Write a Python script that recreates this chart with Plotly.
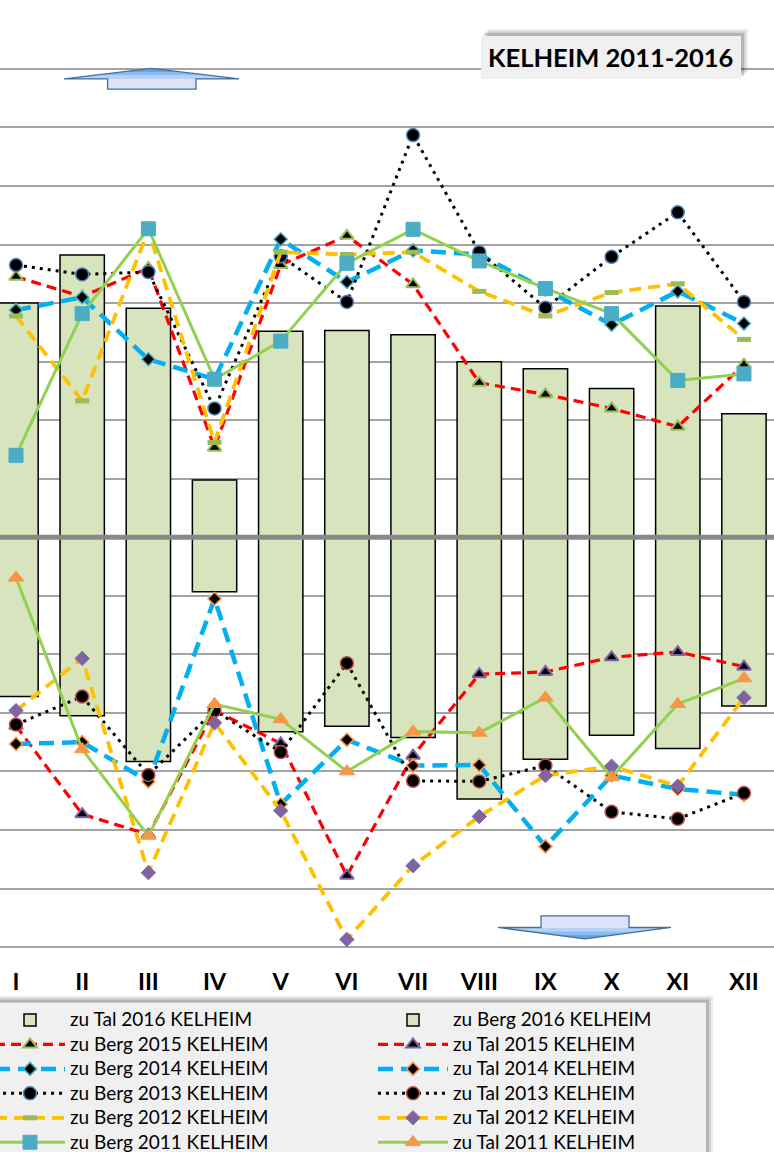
import plotly.graph_objects as go

# ---------------- data ----------------
months = ["I", "II", "III", "IV", "V", "VI", "VII", "VIII", "IX", "X", "XI", "XII"]

tal_2016 = [-272, -305, -383, -93, -332, -323, -342, -447, -379, -338, -361, -288]
berg_2016 = [400, 482, 391, 98, 352, 353, 346, 300, 288, 254, 395, 211]

berg_2015 = [445, 411, 460, 153, 465, 515, 432, 264, 244, 220, 189, 295]
tal_2015 = [-322, -473, -508, -296, -352, -578, -373, -234, -230, -205, -196, -221]
berg_2014 = [388, 410, 304, 270, 509, 436, 490, 483, 423, 363, 420, 365]
tal_2014 = [-353, -350, -417, -105, -456, -346, -390, -389, -528, -407, -430, -440]
berg_2013 = [465, 449, 453, 220, 480, 402, 687, 487, 392, 479, 555, 402]
tal_2013 = [-320, -272, -406, -296, -367, -215, -416, -417, -390, -469, -481, -437]
berg_2012 = [378, 233, 525, 162, 487, 483, 487, 420, 378, 418, 433, 338]
tal_2012 = [-296, -207, -573, -317, -467, -687, -561, -477, -407, -391, -425, -274]
berg_2011 = [140, 382, 527, 270, 335, 468, 526, 472, 425, 382, 268, 279]
tal_2011 = [-69, -362, -510, -285, -311, -400, -332, -334, -274, -410, -285, -241]

title_text = "KELHEIM 2011-2016"

# ---------------- geometry helpers (layout only) ----------------
W, H = 774, 1152
Y_LO, Y_HI = -705, 805          # axis range (gridlines -700..800 stay inside)
SCALE = 0.5855                  # px per data unit
M_T = 69 - (Y_HI - 800) * SCALE
PLOT_BOTTOM = 947.3 + (-700 - Y_LO) * SCALE
M_B = H - PLOT_BOTTOM
PLOT_H = PLOT_BOTTOM - M_T


def px_x(p):
    return p / W


def px_y(p):
    return (PLOT_BOTTOM - p) / PLOT_H


xs = list(range(len(months)))
LEG_FS = 16.5
NAME_FS = 19


def nm(s):
    return '<span style="font-size:%dpx">%s</span>' % (NAME_FS, s)


fig = go.Figure()

bar_style = dict(color="#d7e4bd", line=dict(color="black", width=1.5))
fig.add_trace(go.Bar(x=xs, y=tal_2016, name=nm("zu Tal 2016 KELHEIM"), marker=bar_style, width=0.67))
fig.add_trace(go.Bar(x=xs, y=berg_2016, name=nm("zu Berg 2016 KELHEIM"), marker=bar_style, width=0.67))


def add_line(y, name, lcolor, lwidth, dash, symbol, msize, mcolor, mline, mlw=1.5):
    fig.add_trace(go.Scatter(
        x=xs, y=y, name=nm(name), mode="lines+markers",
        line=dict(color=lcolor, width=lwidth, dash=dash),
        marker=dict(symbol=symbol, size=msize, color=mcolor,
                    line=dict(color=mline, width=mlw)),
    ))


RED, BLUE, YEL, GRN = "#ff0000", "#00b0f0", "#ffc000", "#92d050"
add_line(berg_2015, "zu Berg 2015 KELHEIM", RED, 3.2, "10px,6px", "triangle-up", 12, "black", "#9bbb59", 2)
add_line(tal_2015, "zu Tal 2015 KELHEIM", RED, 3.2, "10px,6px", "triangle-up", 12, "black", "#8064a2", 2)
add_line(berg_2014, "zu Berg 2014 KELHEIM", BLUE, 4.5, "15px,8px", "diamond", 10, "black", "#4bacc6")
add_line(tal_2014, "zu Tal 2014 KELHEIM", BLUE, 4.5, "15px,8px", "diamond", 10, "black", "#f79646")
add_line(berg_2013, "zu Berg 2013 KELHEIM", "black", 3, "3px,5px", "circle", 13, "black", "#4f81bd")
add_line(tal_2013, "zu Tal 2013 KELHEIM", "black", 3, "3px,5px", "circle", 13, "black", "#c0504d")
add_line(berg_2012, "zu Berg 2012 KELHEIM", YEL, 3.8, "12px,7px", "line-ew", 10, "#9bbb59", "#9bbb59", 5)
add_line(tal_2012, "zu Tal 2012 KELHEIM", YEL, 3.8, "12px,7px", "diamond", 11, "#8064a2", "#8064a2", 1)
add_line(berg_2011, "zu Berg 2011 KELHEIM", GRN, 3, "solid", "square", 14, "#4bacc6", "#4bacc6", 1)
add_line(tal_2011, "zu Tal 2011 KELHEIM", GRN, 3, "solid", "triangle-up", 13.5, "#f79646", "#f79646", 1)

shapes = []
# zero line above bars
shapes.append(dict(type="line", xref="paper", yref="y", x0=0, x1=1, y0=0, y1=0,
                   line=dict(color="#888888", width=5), layer="above"))

# title box with shadow
tb = (481, 741, 36, 79)
for off, col in [(7, "rgba(0,0,0,0.07)"), (5, "rgba(0,0,0,0.10)"), (3, "rgba(0,0,0,0.15)")]:
    shapes.append(dict(type="rect", xref="paper", yref="paper",
                       x0=px_x(tb[0] + off), x1=px_x(tb[1] + off),
                       y0=px_y(tb[2] - off), y1=px_y(tb[3] - off),
                       fillcolor=col, line=dict(width=0), layer="above"))
shapes.append(dict(type="rect", xref="paper", yref="paper",
                   x0=px_x(tb[0]), x1=px_x(tb[1]), y0=px_y(tb[2]), y1=px_y(tb[3]),
                   fillcolor="#f0f0f0", line=dict(width=0), layer="above"))

# legend box with shadow
lb = (-20, 706, 1003, 1200)
for off, col in [(7, "rgba(0,0,0,0.07)"), (5, "rgba(0,0,0,0.10)"), (3, "rgba(0,0,0,0.15)")]:
    shapes.append(dict(type="rect", xref="paper", yref="paper",
                       x0=px_x(lb[0] + off), x1=px_x(lb[1] + off),
                       y0=px_y(lb[2] - off), y1=px_y(lb[3]),
                       fillcolor=col, line=dict(width=0), layer="above"))
shapes.append(dict(type="rect", xref="paper", yref="paper",
                   x0=px_x(lb[0]), x1=px_x(lb[1]), y0=px_y(lb[2]), y1=px_y(lb[3]),
                   fillcolor="#f0f0f0", line=dict(width=0), layer="above"))


# block arrows (decoration)
def arrow_shapes(tip_x, tip_y, head_l, head_r, base_y, shaft_l, shaft_r, tail_y):
    out = []
    out.append(dict(type="rect", xref="paper", yref="paper",
                    x0=px_x(shaft_l), x1=px_x(shaft_r), y0=px_y(base_y), y1=px_y(tail_y),
                    fillcolor="#dfe3f8", line=dict(width=0), layer="above"))
    cols = ["#b7d0f5", "#8fbaf2", "#66a3ef"]
    n = len(cols)
    for i, c in enumerate(cols):
        f0, f1 = i / n, (i + 1) / n
        y0 = base_y + (tip_y - base_y) * f0
        y1 = base_y + (tip_y - base_y) * f1
        l0 = head_l + (tip_x - head_l) * f0
        r0 = head_r + (tip_x - head_r) * f0
        l1 = head_l + (tip_x - head_l) * f1
        r1 = head_r + (tip_x - head_r) * f1
        path = "M %f %f L %f %f L %f %f L %f %f Z" % (
            px_x(l0), px_y(y0), px_x(r0), px_y(y0), px_x(r1), px_y(y1), px_x(l1), px_y(y1))
        out.append(dict(type="path", xref="paper", yref="paper", path=path,
                        fillcolor=c, line=dict(width=0), layer="above"))
    pts = [(tip_x, tip_y), (head_r, base_y), (shaft_r, base_y), (shaft_r, tail_y),
           (shaft_l, tail_y), (shaft_l, base_y), (head_l, base_y)]
    path = "M " + " L ".join("%f %f" % (px_x(a), px_y(b)) for a, b in pts) + " Z"
    out.append(dict(type="path", xref="paper", yref="paper", path=path,
                    fillcolor="rgba(0,0,0,0)", line=dict(color="#41719c", width=1.3), layer="above"))
    return out


shapes += arrow_shapes(151.5, 68.5, 64, 239, 79, 107.6, 196, 89.3)
shapes += arrow_shapes(585, 939, 498, 671, 927.7, 541, 629, 916)

fig.update_layout(
    width=W, height=H,
    margin=dict(l=0, r=0, t=M_T, b=M_B, autoexpand=False),
    paper_bgcolor="white", plot_bgcolor="white",
    barmode="relative",
    showlegend=True,
    hovermode=False,
    font=dict(family="Lato", color="black"),
    xaxis=dict(range=[-0.242, 11.454], tickvals=xs, ticktext=months,
               showgrid=False, zeroline=False, showline=False, ticks="",
               tickfont=dict(family="Lato", size=23.5, color="black", weight=700),
               ticklabelstandoff=int(round(18 - (PLOT_BOTTOM - 947.3)))),
    yaxis=dict(range=[Y_LO, Y_HI], dtick=100, tick0=0, showticklabels=False,
               showgrid=True, gridcolor="#a3a3a3", gridwidth=2, zeroline=False,
               showline=False, ticks=""),
    legend=dict(orientation="h", x=px_x(-10), xanchor="left", y=px_y(1003), yanchor="top",
                bgcolor="rgba(0,0,0,0)", borderwidth=0,
                font=dict(family="Lato", size=LEG_FS, color="black"),
                itemwidth=70, entrywidth=298, entrywidthmode="pixels",
                traceorder="normal", itemclick=False),
    shapes=shapes,
    annotations=[dict(text="<b>" + title_text + "</b>", xref="paper", yref="paper",
                      x=px_x((tb[0] + tb[1]) / 2 - 1), y=px_y((tb[2] + tb[3]) / 2),
                      xanchor="center", yanchor="middle", showarrow=False,
                      font=dict(family="Lato", size=25.5, color="black"))],
)

fig.write_html("out.html", config={"displayModeBar": False},
               post_script="document.body.style.margin='0';document.body.style.padding='0';")
